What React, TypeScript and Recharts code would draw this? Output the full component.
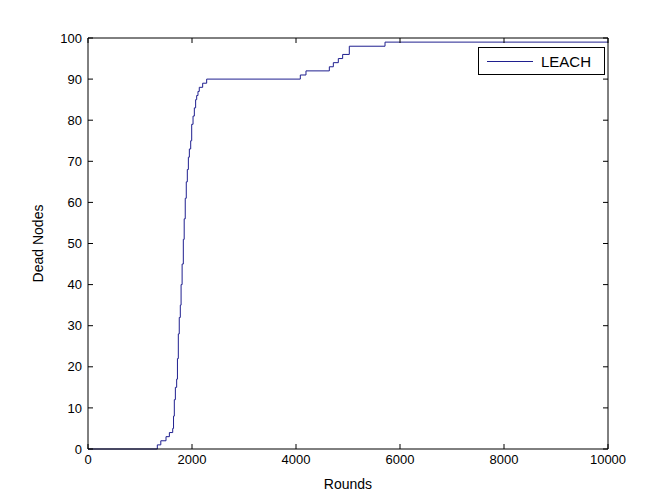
import React from 'react';
import { LineChart, Line, XAxis, YAxis } from 'recharts';

// breakpoints of the step curve (round where the count changes, dead nodes from there on)
const rounds = [0, 1333, 1400, 1500, 1565, 1629, 1645, 1660, 1680, 1705, 1720, 1737, 1755, 1775, 1790, 1810, 1833, 1850, 1870, 1890, 1910, 1930, 1949, 1975, 1994, 2020, 2045, 2070, 2090, 2115, 2140, 2205, 2282, 4083, 4192, 4641, 4718, 4814, 4897, 5025, 5712, 10000];
const deadNodes = [0, 1, 2, 3, 4, 5, 8, 12, 15, 17, 22, 28, 32, 35, 40, 45, 51, 56, 61, 65, 68, 71, 73, 75, 79, 81, 83, 85, 86, 87, 88, 89, 90, 91, 92, 93, 94, 95, 96, 98, 99, 99];

const xTicks = [0, 2000, 4000, 6000, 8000, 10000];
const yTicks = [0, 10, 20, 30, 40, 50, 60, 70, 80, 90, 100];
const seriesName = 'LEACH';

const data = rounds.map((r, i) => ({ round: r, dead: deadNodes[i] }));

const font = 'Arial, "Liberation Sans", Helvetica, sans-serif';
const tickStyle = { fontSize: 13, fill: '#000', fontFamily: font };

function LegendBox() {
  return (
    <div style={{ position: 'absolute', left: 478, top: 47, width: 127, height: 28, border: '1px solid #000', background: '#fff', display: 'flex', alignItems: 'center', boxSizing: 'border-box', fontFamily: font }}>
      <div style={{ width: 46, height: 1, background: '#1f1f8f', marginLeft: 8, marginRight: 8 }} />
      <span style={{ fontSize: 15, color: '#000' }}>{seriesName}</span>
    </div>
  );
}

export default function App() {
  return (
    <div style={{ position: 'absolute', left: 0, top: 0, width: 672, height: 504, background: '#fff' }}>
      <LineChart width={672} height={504} data={data} margin={{ top: 37, right: 63, bottom: 15, left: 0 }}>
        <XAxis
          dataKey="round"
          type="number"
          domain={[0, 10000]}
          ticks={xTicks}
          tick={tickStyle}
          tickSize={-5}
          tickMargin={11}
          height={40}
          stroke="#000"
          label={{ value: 'Rounds', position: 'insideBottom', offset: 0, fill: '#000', fontSize: 14, fontFamily: font }}
        />
        <XAxis
          xAxisId="top"
          orientation="top"
          dataKey="round"
          type="number"
          domain={[0, 10000]}
          ticks={xTicks}
          tickFormatter={() => ''}
          tickSize={-5}
          height={1}
          stroke="#000"
        />
        <YAxis
          type="number"
          domain={[0, 100]}
          ticks={yTicks}
          tick={tickStyle}
          tickSize={-5}
          tickMargin={11}
          width={88}
          stroke="#000"
          label={{ value: 'Dead Nodes', angle: -90, position: 'insideLeft', offset: 38, fill: '#000', fontSize: 14, fontFamily: font, style: { textAnchor: 'middle' } }}
        />
        <YAxis
          yAxisId="right"
          orientation="right"
          type="number"
          domain={[0, 100]}
          ticks={yTicks}
          tickFormatter={() => ''}
          tickSize={-5}
          width={1}
          stroke="#000"
        />
        <Line
          type="stepAfter"
          dataKey="dead"
          name={seriesName}
          stroke="#1f1f8f"
          strokeWidth={1}
          dot={false}
          isAnimationActive={false}
        />
        <Line
          xAxisId="top"
          yAxisId="right"
          dataKey="dead"
          stroke="none"
          dot={false}
          legendType="none"
          isAnimationActive={false}
        />
      </LineChart>
      <LegendBox />
    </div>
  );
}
